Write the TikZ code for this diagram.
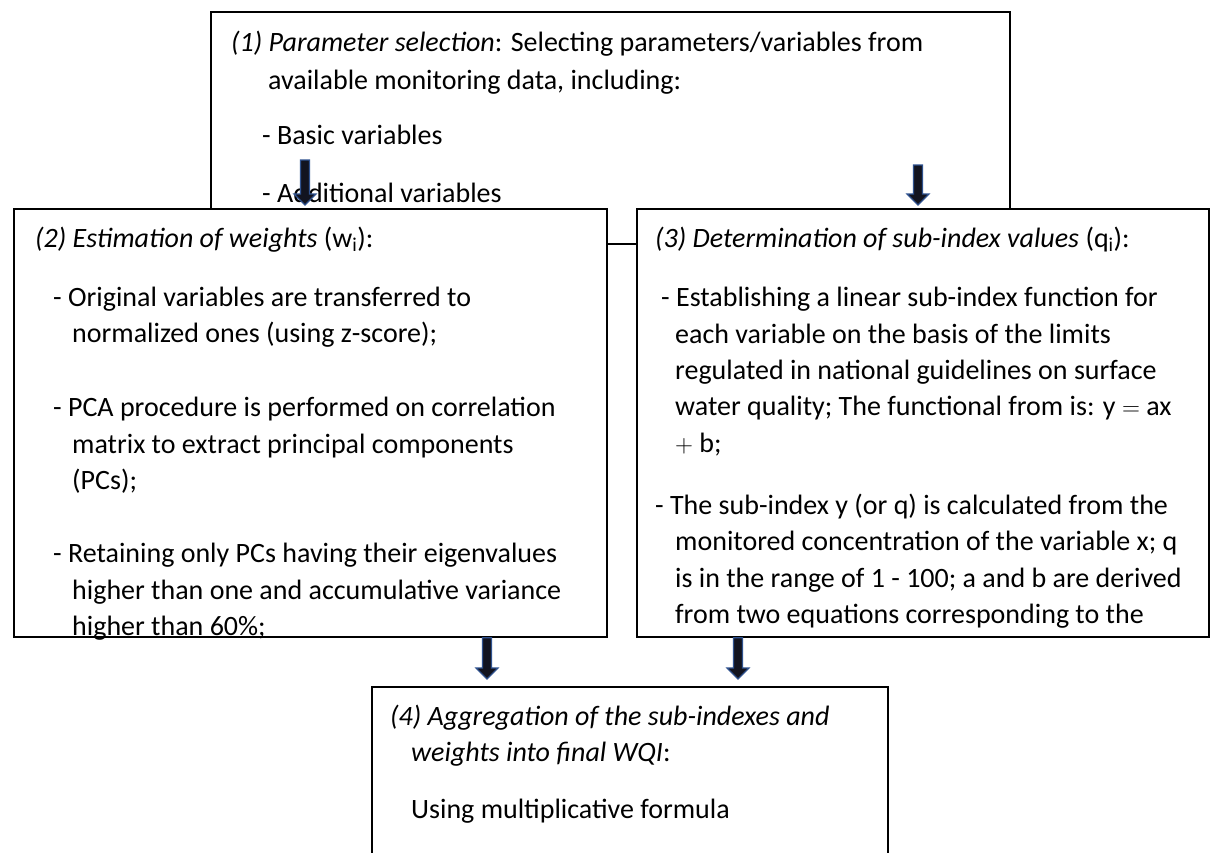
\documentclass[tikz,border=0pt]{standalone}
\usepackage{fontspec}
\setmainfont{Carlito}
\usetikzlibrary{calc}
\definecolor{arrfill}{RGB}{18,20,32}
\definecolor{arrline}{RGB}{47,82,143}
\tikzset{
  boxnode/.style={draw=black, line width=1.8pt, fill=white, rectangle, inner sep=0pt, anchor=north west},
  txt/.style={anchor=base west, inner sep=0pt, font=\fontsize{28}{36}\selectfont},
  barrow/.style={fill=arrfill, draw=arrline, line width=1.2pt, line join=miter}
}
\newcommand\blockarrow[2]{%
  \path (#1) coordinate (tmpS) (#2) coordinate (tmpE);
  \draw[barrow] let \p1=(tmpS), \p2=(tmpE) in
    (\x1-4.5pt,\y1) -- (\x1+4.5pt,\y1) -- (\x1+4.5pt,\y2+11pt) -- (\x1+11pt,\y2+11pt)
    -- (\x1,\y2) -- (\x1-11pt,\y2+11pt) -- (\x1-4.5pt,\y2+11pt) -- cycle;
}
\begin{document}
\begin{tikzpicture}[x=1pt,y=-1pt]
\useasboundingbox (0,0) rectangle (1210,852);
\clip (0,0) rectangle (1210,852);
\fill[white] (0,0) rectangle (1210,852);
% Box 1
\node[boxnode, minimum width=799pt, minimum height=232pt] (b1) at (210,11) {};
\node[txt] (t1a) at (231,51) {\textit{(1) Parameter selection}: Selecting parameters/variables from};
\node[txt] (t1b) at (268,89) {available monitoring data, including:};
\node[txt] (t1c) at (262,144) {- Basic variables};
\node[txt] (t1d) at (262,202) {- Additional variables};
% arrows from box 1
\coordinate (a1s) at (305,160);
\coordinate (a1e) at (305,205);
\coordinate (a2s) at (918,165);
\coordinate (a2e) at (918,205);
\blockarrow{a1s}{a1e}
\blockarrow{a2s}{a2e}
% Box 2
\node[boxnode, minimum width=593pt, minimum height=428pt] (b2) at (13,208) {};
\node[txt] (t2a) at (35,247) {\textit{(2) Estimation of weights} (w\textsubscript{i}):};
\node[txt] (t2b) at (53,306) {- Original variables are transferred to};
\node[txt] (t2c) at (72,342) {normalized ones (using z-score);};
\node[txt] (t2d) at (53,416) {- PCA procedure is performed on correlation};
\node[txt] (t2e) at (72,453) {matrix to extract principal components};
\node[txt] (t2f) at (72,489) {(PCs);};
\node[txt] (t2g) at (53,562) {- Retaining only PCs having their eigenvalues};
\node[txt] (t2h) at (72,599) {higher than one and accumulative variance};
\node[txt] (t2i) at (72,635) {higher than 60\%;};
% Box 3
\node[boxnode, minimum width=572pt, minimum height=428pt] (b3) at (636,208) {};
\begin{scope}
\clip (637,209) rectangle (1207,627);
\node[txt] (t3a) at (655,247) {\textit{(3) Determination of sub-index values} (q\textsubscript{i}):};
\node[txt] (t3b) at (661,306) {- Establishing a linear sub-index function for};
\node[txt] (t3c) at (675,343) {each variable on the basis of the limits};
\node[txt] (t3d) at (675,379) {regulated in national guidelines on surface};
\node[txt] (t3e) at (675,415) {water quality; The functional from is: y $=$ ax};
\node[txt] (t3f) at (675,452) {$+$ b;};
\node[txt] (t3g) at (655,514) {- The sub-index y (or q) is calculated from the};
\node[txt] (t3h) at (675,550) {monitored concentration of the variable x; q};
\node[txt] (t3i) at (675,587) {is in the range of 1 - 100; a and b are derived};
\node[txt] (t3j) at (675,623) {from two equations corresponding to the};
\end{scope}
% Box 4
\node[boxnode, minimum width=516pt, minimum height=200pt] (b4) at (371,686) {};
\node[txt] (t4a) at (390,725) {\textit{(4) Aggregation of the sub-indexes and}};
\node[txt] (t4b) at (411,761) {\textit{weights into final WQI}:};
\node[txt] (t4c) at (411,818) {Using multiplicative formula};
% arrows into box 4
\coordinate (a3e) at (487,679);
\coordinate (a4e) at (738,679);
\blockarrow{b2.south -| a3e}{a3e}
\blockarrow{b3.south -| a4e}{a4e}
\end{tikzpicture}
\end{document}
